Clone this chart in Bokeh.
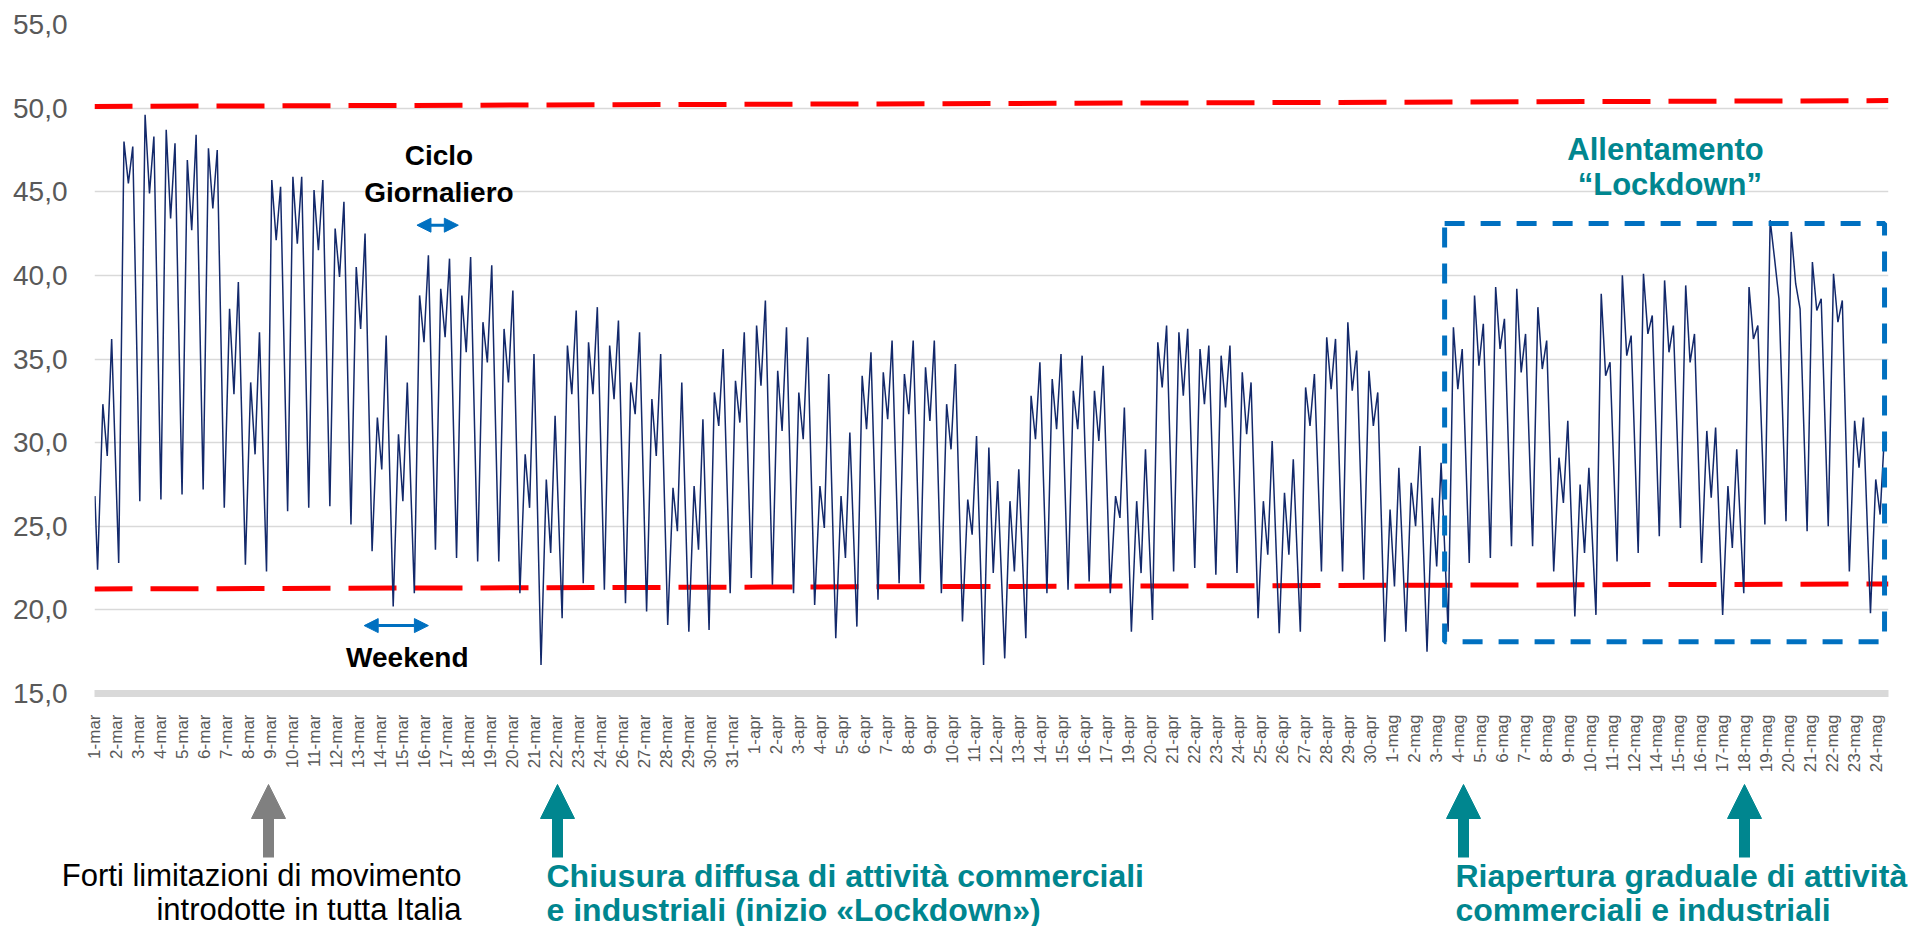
import numpy as np
from bokeh.plotting import figure
from bokeh.models import Range1d, FixedTicker, Label, Arrow, NormalHead
from bokeh.embed import file_html
from bokeh.resources import INLINE

# ---------------- data (GW) ----------------
START_VALUE = 26.8  # value at 00:00 of 1-mar

NIGHT_MIN = [
    22.4, 22.8, 26.5, 26.6, 26.9, 27.2, 26.1, 22.7, 22.3, 25.9, 26.1, 26.2, 25.1, 23.5, 20.2,
    21.0, 23.6, 23.1, 22.9, 22.9, 21.0, 16.7, 19.5, 21.6, 21.2, 20.4, 19.9, 19.1, 18.7, 18.8,
    21.0, 21.9, 21.5, 21.0, 20.3, 18.3, 19.0, 20.6, 21.6, 21.6, 21.0, 19.3, 16.7, 17.1, 18.3,
    21.0, 21.2, 21.7, 21.0, 18.7, 19.4, 22.3, 22.5, 22.1, 22.2, 19.5, 18.6, 18.7, 22.3, 22.3,
    21.8, 18.1, 18.7, 17.5, 18.7, 22.8, 23.1, 23.8, 23.8, 22.3, 19.6, 19.7, 22.9, 23.4, 24.4,
    24.9, 22.8, 19.7, 21.0, 25.1, 25.3, 24.7, 25.0, 22.3, 19.8,
]
MORNING_PEAK = [
    32.3, 48.0, 49.6, 48.7, 46.9, 47.6, 38.0, 33.6, 45.7, 45.9, 45.1, 42.8, 40.5, 31.5, 30.5,
    38.8, 39.2, 38.8, 37.2, 36.8, 29.3, 27.8, 35.8, 36.0, 35.8, 33.6, 32.6, 27.3, 27.4, 33.0,
    33.7, 37.0, 34.3, 33.0, 27.4, 26.8, 34.0, 34.2, 34.1, 34.5, 32.3, 26.6, 29.7, 26.5, 32.8,
    33.8, 33.1, 33.1, 26.8, 26.5, 36.0, 36.6, 35.6, 35.2, 34.2, 26.5, 27.0, 33.3, 36.3, 37.2,
    34.3, 26.0, 27.6, 26.7, 36.9, 38.8, 39.3, 39.2, 38.1, 29.1, 27.5, 38.9, 40.0, 40.1, 39.7,
    39.4, 30.7, 27.4, 39.3, 43.3, 42.6, 40.8, 40.1, 31.3, 27.8,
]
MIDDAY_DIP = [
    29.2, 45.5, 44.9, 43.4, 42.7, 44.0, 32.9, 29.3, 42.1, 41.9, 41.5, 39.9, 36.8, 28.4, 26.5,
    36.0, 36.3, 35.4, 34.8, 33.6, 26.1, 23.4, 32.9, 32.9, 32.6, 31.7, 29.2, 24.7, 23.6, 31.0,
    31.2, 33.4, 30.7, 30.2, 24.9, 23.1, 30.8, 31.4, 31.7, 31.3, 29.6, 24.5, 22.2, 22.3, 30.2,
    30.8, 30.8, 30.1, 25.5, 22.2, 33.3, 32.8, 32.3, 32.1, 30.5, 23.3, 23.3, 31.0, 33.2, 33.1,
    31.0, 21.4, 25.0, 22.6, 33.2, 34.6, 35.6, 34.2, 34.4, 26.4, 23.4, 34.0, 35.2, 36.5, 35.4,
    34.8, 26.7, 23.7, 36.2, 41.0, 39.5, 37.9, 37.2, 28.5, 25.7,
]
EVENING_PEAK = [
    36.2, 47.7, 48.3, 47.9, 48.4, 47.5, 39.6, 36.6, 45.3, 45.9, 45.7, 44.4, 42.5, 36.4, 33.6,
    41.2, 41.0, 41.1, 40.6, 39.1, 35.3, 31.6, 37.9, 38.1, 37.3, 36.6, 35.3, 33.6, 31.4, 35.6,
    36.6, 38.5, 36.9, 36.3, 34.1, 30.6, 35.4, 36.1, 36.1, 36.1, 34.7, 30.4, 27.7, 28.4, 34.8,
    35.3, 35.2, 34.6, 32.1, 29.6, 37.0, 36.8, 35.8, 35.8, 33.6, 30.1, 29.0, 34.1, 36.2, 35.5,
    33.0, 28.5, 29.8, 28.8, 35.6, 37.1, 37.4, 36.5, 36.1, 31.3, 28.5, 34.8, 36.4, 37.6, 37.0,
    36.5, 30.9, 29.6, 37.0, 38.6, 38.0, 38.6, 38.5, 31.5, 30.6,
]

TICK_LABELS = [
    "1-mar", "2-mar", "3-mar", "4-mar", "5-mar", "6-mar", "7-mar", "8-mar", "9-mar", "10-mar",
    "11-mar", "12-mar", "13-mar", "14-mar", "15-mar", "16-mar", "17-mar", "18-mar", "19-mar",
    "20-mar", "21-mar", "22-mar", "23-mar", "24-mar", "26-mar", "27-mar", "28-mar", "29-mar",
    "30-mar", "31-mar",
    "1-apr", "2-apr", "3-apr", "4-apr", "5-apr", "6-apr", "7-apr", "8-apr", "9-apr", "10-apr",
    "11-apr", "12-apr", "13-apr", "14-apr", "15-apr", "16-apr", "17-apr", "19-apr", "20-apr",
    "21-apr", "22-apr", "23-apr", "24-apr", "25-apr", "26-apr", "27-apr", "28-apr", "29-apr",
    "30-apr",
    "1-mag", "2-mag", "3-mag", "4-mag", "5-mag", "6-mag", "7-mag", "8-mag", "9-mag", "10-mag",
    "11-mag", "12-mag", "14-mag", "15-mag", "16-mag", "17-mag", "18-mag", "19-mag", "20-mag",
    "21-mag", "22-mag", "23-mag", "24-mag",
]
Y_TICKS = [15, 20, 25, 30, 35, 40, 45, 50, 55]

# reference bands (red dashed) and lockdown-easing box
UPPER_BAND = (50.1, 50.45)
LOWER_BAND = (21.25, 21.55)
BOX = dict(left=1534, right=2034, top=43.1, bottom=18.1)

# ---------------- layout constants ----------------
W, H = 1908, 926
TOP_H = 775              # height of the chart part
N_HOURS = 2039           # hourly points (29-mar has 23 h)
LABEL_EVERY = 25         # Excel category label interval
DST_DAY = 29             # first day with the 1-hour shift
KEY_HOURS = (3, 9, 14, 19)
FONT = "Liberation Sans"
TEAL = "#00868F"
BLUE = "#0070C0"
NAVY = "#13296B"

xs = [0]
ys = [START_VALUE]
for d in range(len(NIGHT_MIN)):
    day_start = 24 * d - (1 if d >= DST_DAY else 0)
    for h, arr in zip(KEY_HOURS, (NIGHT_MIN, MORNING_PEAK, MIDDAY_DIP, EVENING_PEAK)):
        xs.append(day_start + h)
        ys.append(arr[d])

p = figure(width=W, height=TOP_H,
           x_range=Range1d(-0.5, N_HOURS - 0.5), y_range=Range1d(15, 55),
           output_backend="svg", toolbar_location=None,
           min_border_left=94, min_border_right=20, min_border_top=24,
           min_border_bottom=TOP_H - 694)
p.outline_line_color = None
p.background_fill_color = "white"
p.border_fill_color = "white"

# grid
p.xgrid.visible = False
p.ygrid.ticker = FixedTicker(ticks=Y_TICKS)
p.ygrid.grid_line_color = "#D9D9D9"
p.ygrid.grid_line_width = 1.5

# y axis
p.yaxis.ticker = FixedTicker(ticks=Y_TICKS)
p.yaxis.major_label_overrides = {t: f"{t:.1f}".replace(".", ",") for t in Y_TICKS}
p.yaxis.axis_line_color = None
p.yaxis.major_tick_line_color = None
p.yaxis.major_tick_out = 0
p.yaxis.major_tick_in = 0
p.yaxis.minor_tick_line_color = None
p.yaxis.major_label_text_font = FONT
p.yaxis.major_label_text_font_size = "28px"
p.yaxis.major_label_text_color = "#595959"
p.yaxis.major_label_standoff = 27

# x axis
tick_pos = [LABEL_EVERY * k for k in range(len(TICK_LABELS))]
p.xaxis.ticker = FixedTicker(ticks=tick_pos)
p.xaxis.major_label_overrides = {pos: lab for pos, lab in zip(tick_pos, TICK_LABELS)}
p.xaxis.major_label_orientation = np.pi / 2
p.xaxis.axis_line_color = "#D9D9D9"
p.xaxis.axis_line_width = 7
p.xaxis.major_tick_line_color = None
p.xaxis.major_tick_out = 0
p.xaxis.major_tick_in = 0
p.xaxis.minor_tick_line_color = None
p.xaxis.major_label_text_font = FONT
p.xaxis.major_label_text_font_size = "17px"
p.xaxis.major_label_text_color = "#595959"
p.xaxis.major_label_standoff = 21

# red dashed bands
for a, b in (UPPER_BAND, LOWER_BAND):
    p.line([-0.5, N_HOURS - 0.5], [a, b], line_color="#FF0000", line_width=5,
           line_dash="48 18", line_dash_offset=10)

# series
p.line(xs, ys, line_color=NAVY, line_width=1.5)

# blue dashed box
p.quad(left=[BOX["left"]], right=[BOX["right"]], top=[BOX["top"]], bottom=[BOX["bottom"]],
       fill_color=None, line_color=BLUE, line_width=5, line_dash="20 16")


def label(fig, x, y, text, size, color, bold=False, align="center"):
    fig.add_layout(Label(x=x, y=y, text=text, text_font=FONT, text_font_size=f"{size}px",
                         text_color=color, text_font_style="bold" if bold else "normal",
                         text_align=align, text_baseline="middle"))


# annotations inside chart
label(p, 391, 47.18, "Ciclo", 28, "black", True)
label(p, 391, 44.97, "Giornaliero", 28, "black", True)
label(p, 355, 17.15, "Weekend", 28, "black", True)
label(p, 1785, 47.55, "Allentamento", 31, TEAL, True)
label(p, 1790, 45.45, "\u201cLockdown\u201d", 31, TEAL, True)

for (x0, x1, y0) in ((366, 413, 43.0), (306, 379, 19.06)):
    p.add_layout(Arrow(x_start=x0, x_end=x1, y_start=y0, y_end=y0,
                       start=NormalHead(size=14, fill_color=BLUE, line_color=BLUE),
                       end=NormalHead(size=14, fill_color=BLUE, line_color=BLUE),
                       line_color=BLUE, line_width=3))

# ---------------- lower panel: event arrows and notes (pixel units) ----------------
q = figure(width=W, height=H - TOP_H, x_range=Range1d(0, W), y_range=Range1d(H, TOP_H),
           output_backend="svg", toolbar_location=None,
           min_border_left=0, min_border_right=0, min_border_top=0, min_border_bottom=0)
q.axis.visible = False
q.grid.visible = False
q.outline_line_color = None
q.background_fill_color = "white"
q.border_fill_color = "white"

for x0, col in ((268, "#808080"), (557, TEAL), (1463, TEAL), (1744, TEAL)):
    q.add_layout(Arrow(x_start=x0, x_end=x0, y_start=857, y_end=784,
                       end=NormalHead(size=34, fill_color=col, line_color=col),
                       line_color=col, line_width=11))

label(q, 461, 875, "Forti limitazioni di movimento", 31, "black", False, "right")
label(q, 461, 909, "introdotte in tutta Italia", 31, "black", False, "right")
label(q, 546, 875, "Chiusura diffusa di attivit\u00e0 commerciali", 32, TEAL, True, "left")
label(q, 546, 909, "e industriali (inizio \u00abLockdown\u00bb)", 32, TEAL, True, "left")
label(q, 1455, 875, "Riapertura graduale di attivit\u00e0", 32, TEAL, True, "left")
label(q, 1455, 909, "commerciali e industriali", 32, TEAL, True, "left")

open("out.html", "w").write(file_html([p, q], INLINE))
